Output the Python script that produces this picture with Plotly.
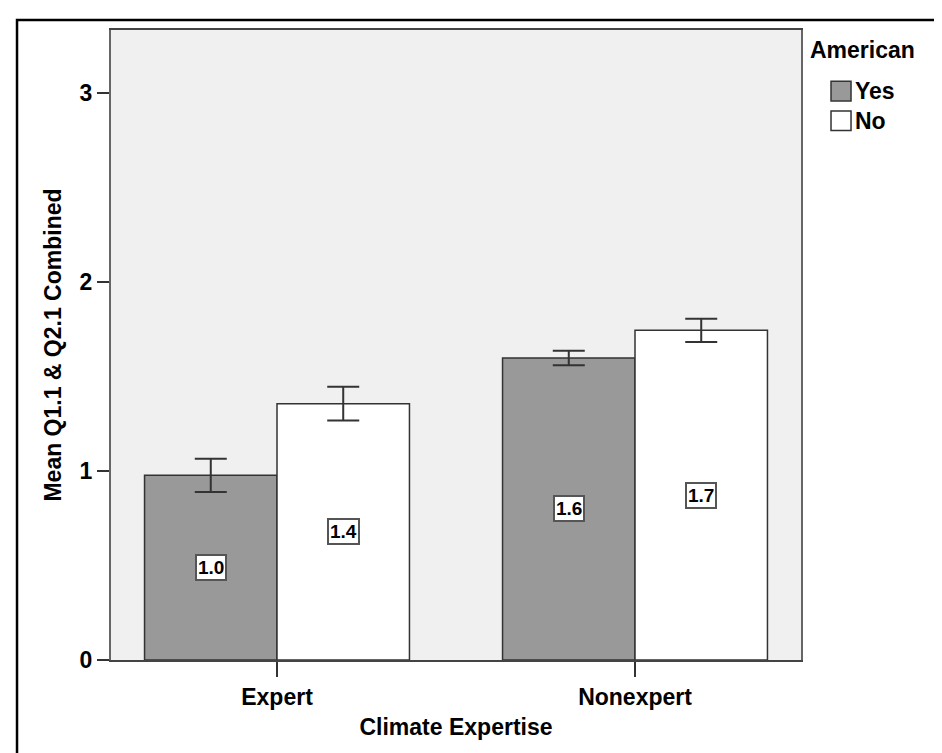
import plotly.graph_objects as go

# data
categories = ['Expert', 'Nonexpert']
series_names = ['Yes', 'No']
series_colors = ['#999999', '#ffffff']
yes_means = [0.977, 1.598]
no_means = [1.356, 1.744]
yes_err = [0.088, 0.038]
no_err = [0.089, 0.062]
y_ticks = [0, 1, 2, 3]

FONT = 'Liberation Sans, Arial, sans-serif'
TXT = 23

fig = go.Figure()
for name, color, means, errs in zip(series_names, series_colors,
                                    [yes_means, no_means], [yes_err, no_err]):
    fig.add_trace(go.Bar(
        x=categories,
        y=means,
        name=name,
        marker=dict(color=color, line=dict(color='#333333', width=1.5)),
        error_y=dict(type='data', array=errs, color='#333333',
                     thickness=2, width=16),
        showlegend=False
    ))

# value labels in boxes, centred inside each bar
for shift, means in zip([-66, 66], [yes_means, no_means]):
    for cat, v in zip(categories, means):
        fig.add_annotation(
            x=cat, y=v / 2, xref='x', yref='y', xshift=shift,
            text=f'{v:.1f}', showarrow=False,
            font=dict(family=FONT, size=19, color='black', weight='bold'),
            bgcolor='white', bordercolor='#555555', borderwidth=2, borderpad=1
        )

# legend drawn by hand so the swatches match the original size
fig.add_annotation(
    x=1.01, y=0.968, xref='paper', yref='paper', xanchor='left', yanchor='middle',
    text='American', showarrow=False,
    font=dict(family=FONT, size=TXT, color='black', weight='bold')
)
for i, (name, color) in enumerate(zip(series_names, series_colors)):
    yc = 0.903 - i * 0.047
    fig.add_shape(type='rect', xref='paper', yref='paper',
                  x0=1.0435, x1=1.0725, y0=yc - 0.0155, y1=yc + 0.0155,
                  fillcolor=color, line=dict(color='#333333', width=1.5))
    fig.add_annotation(
        x=1.075, y=yc, xref='paper', yref='paper', xanchor='left', yanchor='middle',
        text=name, showarrow=False,
        font=dict(family=FONT, size=TXT, color='black', weight='bold')
    )

# outer frame round the whole chart
fig.add_shape(type='rect', xref='paper', yref='paper',
              x0=-0.1362, x1=1.2145, y0=-0.19, y1=1.0159,
              line=dict(color='black', width=2.5), fillcolor='rgba(0,0,0,0)')

fig.update_layout(
    width=942, height=753,
    margin=dict(l=103, r=149, t=22, b=101),
    paper_bgcolor='white',
    plot_bgcolor='#f0f0f0',
    barmode='group',
    bargap=0.26,
    bargroupgap=0,
    font=dict(family=FONT, color='black'),
    xaxis=dict(
        range=[-0.4637, 1.4637],
        showline=True, linecolor='#444444', linewidth=2, mirror=True,
        ticks='outside', ticklen=15, tickcolor='#333333', tickwidth=1.5,
        tickfont=dict(family=FONT, size=TXT, color='black', weight='bold'),
        title=dict(text='Climate Expertise', standoff=10,
                   font=dict(family=FONT, size=TXT, color='black', weight='bold')),
        showgrid=False
    ),
    yaxis=dict(
        range=[0, 3.333],
        tickvals=y_ticks,
        showline=True, linecolor='#666666', linewidth=2, mirror=True,
        ticks='outside', ticklen=12, tickcolor='#333333', tickwidth=1.5,
        tickfont=dict(family=FONT, size=TXT, color='black', weight='bold'),
        title=dict(text='Mean Q1.1 & Q2.1 Combined', standoff=12,
                   font=dict(family=FONT, size=TXT, color='black', weight='bold')),
        showgrid=False, zeroline=False
    )
)

fig.write_html('out.html')
